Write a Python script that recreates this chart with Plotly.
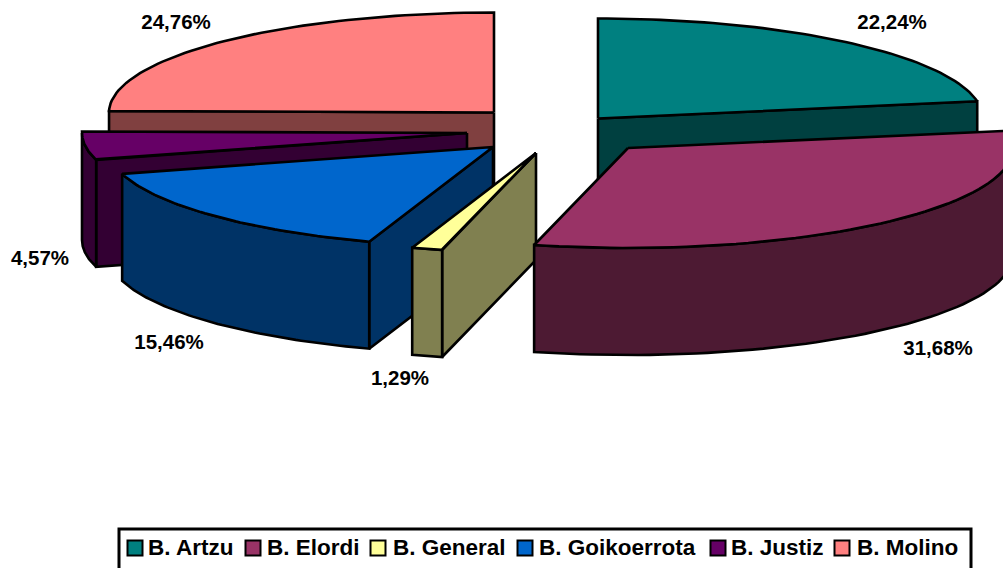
import math
import plotly.graph_objects as go

# ---- data ----
categories = ["B. Artzu", "B. Elordi", "B. General", "B. Goikoerrota", "B. Justiz", "B. Molino"]
shares = [22.24, 31.68, 1.29, 15.46, 4.57, 24.76]

# ---- styles ----
top_colors = ["#008080", "#993366", "#FFFF99", "#0066CC", "#660066", "#FF8080"]
side_colors = ["#004040", "#4D1A33", "#808050", "#003366", "#330033", "#804040"]

# ---- layout of the drawing (pixels) ----
RX, RY, DEPTH = 385, 100, 107
EXPLODED_CENTRES = [(598, 118.5), (628, 148), (536, 153), (493, 147), (467, 133), (494, 112.5)]
PAINT_ORDER = [5, 4, 3, 0, 2, 1]
LABEL_POS = [(892, 24), (938, 350), (400, 380), (169, 344), (40, 260), (176, 24)]
LEGEND_SWATCH_X = [135, 253, 378, 525, 718, 842]
LEGEND_TEXT_X = [148, 267, 393, 539, 731, 857]
LEGEND_Y = 549
FONT = "Liberation Sans"

total = sum(shares)
angles = [0.0]
for v in shares:
    angles.append(angles[-1] + v / total * 360)


def pt(c, deg, dz=0):
    a = math.radians(deg)
    return (c[0] + RX * math.sin(a), c[1] - RY * math.cos(a) + dz)


def arc(c, a0, a1, dz=0, n=60):
    return [pt(c, a0 + (a1 - a0) * i / n, dz) for i in range(n + 1)]


fig = go.Figure()


def poly(points, fill):
    xs = [p[0] for p in points] + [points[0][0]]
    ys = [p[1] for p in points] + [points[0][1]]
    fig.add_trace(go.Scatter(x=xs, y=ys, mode="lines", fill="toself", fillcolor=fill,
                             line=dict(color="black", width=2.6), hoverinfo="skip",
                             showlegend=False))


for i in PAINT_ORDER:
    c = EXPLODED_CENTRES[i]
    a0, a1 = angles[i], angles[i + 1]
    c_low = (c[0], c[1] + DEPTH)
    # walls that face the viewer
    if math.sin(math.radians(a1)) > 0:
        p = pt(c, a1)
        poly([c, p, (p[0], p[1] + DEPTH), c_low], side_colors[i])
    if math.sin(math.radians(a0)) < 0:
        p = pt(c, a0)
        poly([c, p, (p[0], p[1] + DEPTH), c_low], side_colors[i])
    # outer rim, front half only
    r0, r1 = max(a0, 90), min(a1, 270)
    if r1 > r0:
        poly(arc(c, r0, r1) + arc(c, r1, r0, DEPTH), side_colors[i])
    # top face
    poly([c] + arc(c, a0, a1), top_colors[i])

# percentage labels
fig.add_trace(go.Scatter(
    x=[p[0] for p in LABEL_POS], y=[p[1] for p in LABEL_POS], mode="text",
    text=[f"{v:.2f}%".replace(".", ",") for v in shares],
    textfont=dict(family=FONT, size=20.5, color="black", weight="bold"),
    textposition="middle center", hoverinfo="skip", showlegend=False))

# legend
fig.add_shape(type="rect", x0=119, y0=529, x1=971, y1=572,
              line=dict(color="black", width=3), fillcolor="white", layer="below")
for name, sx, tx, col in zip(categories, LEGEND_SWATCH_X, LEGEND_TEXT_X, top_colors):
    fig.add_trace(go.Scatter(x=[sx], y=[LEGEND_Y - 1], mode="markers",
                             marker=dict(symbol="square", size=15, color=col,
                                         line=dict(color="black", width=2)),
                             name=name, hoverinfo="skip", showlegend=False))
    fig.add_trace(go.Scatter(x=[tx], y=[LEGEND_Y], mode="text", text=[name],
                             textposition="middle right",
                             textfont=dict(family=FONT, size=22.5, color="black", weight="bold"),
                             hoverinfo="skip", showlegend=False))

fig.update_layout(
    width=1003, height=568, margin=dict(l=0, r=0, t=0, b=0, pad=0),
    paper_bgcolor="white", plot_bgcolor="white", showlegend=False,
    xaxis=dict(range=[0, 1003], visible=False, fixedrange=True),
    yaxis=dict(range=[568, 0], visible=False, fixedrange=True),
)
fig.write_html("out.html", config=dict(displayModeBar=False),
               post_script="document.body.style.margin='0';document.body.style.overflow='hidden';")
